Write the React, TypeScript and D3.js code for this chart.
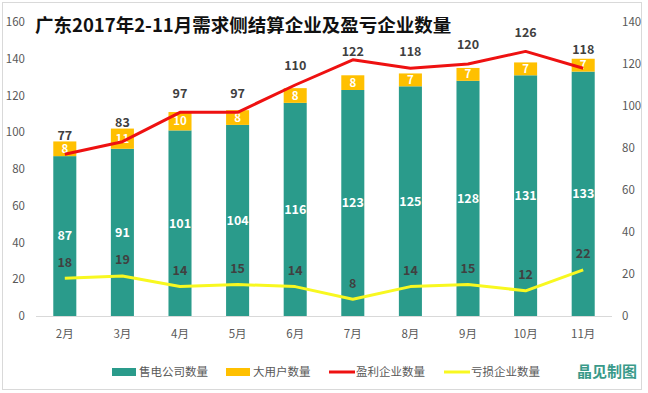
import * as React from 'react';
import * as d3 from 'd3';

const months = ['2月', '3月', '4月', '5月', '6月', '7月', '8月', '9月', '10月', '11月'];
const sellers = [87, 91, 101, 104, 116, 123, 125, 128, 131, 133];
const bigUsers = [8, 11, 10, 8, 8, 8, 7, 7, 7, 7];
const profit = [77, 83, 97, 97, 110, 122, 118, 120, 126, 118];
const loss = [18, 19, 14, 15, 14, 8, 14, 15, 12, 22];
const leftTicks = [0, 20, 40, 60, 80, 100, 120, 140, 160];
const rightTicks = [0, 20, 40, 60, 80, 100, 120, 140];

const W = 648, H = 393;
const FONT = '"Noto Sans CJK SC", "Noto Sans", sans-serif';
const TEAL = '#2a9b8b';
const ORANGE = '#ffc000';
const RED = '#ee1111';
const YELLOW = '#f8f820';

class App extends React.Component {
  // tslint:disable-next-line:no-any
  svgRef: React.RefObject<any>;

  constructor(props: {}) {
    super(props);
    this.svgRef = React.createRef();
  }

  componentDidMount() {
    const svg = d3.select(this.svgRef.current);
    svg.selectAll('*').remove();

    const x0 = 36, x1 = 612, yTop = 22, yBottom = 316;
    const titleEnd = 450;

    const x = d3.scaleBand().domain(months).range([x0, x1]).paddingInner(0.6).paddingOuter(0.3);
    const yL = d3.scaleLinear().domain([0, 160]).range([yBottom, yTop]);
    const yR = d3.scaleLinear().domain([0, 140]).range([yBottom, yTop]);
    const cx = (m: string) => (x(m) || 0) + x.bandwidth() / 2;

    // frame
    svg.append('rect')
      .attr('x', 2.5).attr('y', 2.5).attr('width', 639).attr('height', 387)
      .attr('fill', '#fff').attr('stroke', '#d9d9d9');

    // axis ticks
    svg.append('g').selectAll('text').data(leftTicks).enter().append('text')
      .attr('x', 25).attr('y', d => yL(d)).attr('dy', '0.35em')
      .attr('text-anchor', 'end').attr('font-size', 11.5).attr('fill', '#595959')
      .attr('font-family', FONT).text(d => `${d}`);
    svg.append('g').selectAll('text').data(rightTicks).enter().append('text')
      .attr('x', 622).attr('y', d => yR(d)).attr('dy', '0.35em')
      .attr('text-anchor', 'start').attr('font-size', 11.5).attr('fill', '#595959')
      .attr('font-family', FONT).text(d => `${d}`);

    // bars
    const bars = svg.append('g');
    bars.selectAll('rect.s').data(months).enter().append('rect')
      .attr('x', d => x(d) || 0).attr('width', x.bandwidth())
      .attr('y', (d, i) => yL(sellers[i])).attr('height', (d, i) => yBottom - yL(sellers[i]))
      .attr('fill', TEAL);
    bars.selectAll('rect.u').data(months).enter().append('rect')
      .attr('x', d => x(d) || 0).attr('width', x.bandwidth())
      .attr('y', (d, i) => yL(sellers[i] + bigUsers[i]))
      .attr('height', (d, i) => yL(sellers[i]) - yL(sellers[i] + bigUsers[i]))
      .attr('fill', ORANGE);

    // x axis
    svg.append('line').attr('x1', x0).attr('x2', x1).attr('y1', yBottom + 0.5).attr('y2', yBottom + 0.5)
      .attr('stroke', '#d9d9d9');
    svg.append('g').selectAll('text').data(months).enter().append('text')
      .attr('x', d => cx(d)).attr('y', 334).attr('dy', '0.35em')
      .attr('text-anchor', 'middle').attr('font-size', 11.5).attr('fill', '#595959')
      .attr('font-family', FONT).text(d => d);

    // bar labels
    bars.selectAll('text.s').data(months).enter().append('text')
      .attr('x', d => cx(d)).attr('y', (d, i) => (yL(sellers[i]) + yBottom) / 2).attr('dy', '0.35em')
      .attr('text-anchor', 'middle').attr('font-size', 12.5).attr('font-weight', 'bold')
      .attr('fill', '#fff').attr('font-family', FONT).text((d, i) => `${sellers[i]}`);
    bars.selectAll('text.u').data(months).enter().append('text')
      .attr('x', d => cx(d)).attr('y', (d, i) => (yL(sellers[i]) + yL(sellers[i] + bigUsers[i])) / 2)
      .attr('dy', '0.35em')
      .attr('text-anchor', 'middle').attr('font-size', 11.5).attr('font-weight', 'bold')
      .attr('fill', '#fff').attr('font-family', FONT).text((d, i) => `${bigUsers[i]}`);

    // lines
    const line = d3.line<number>().x((d, i) => cx(months[i])).y(d => yR(d));
    svg.append('path').datum(loss).attr('d', line).attr('fill', 'none')
      .attr('stroke', YELLOW).attr('stroke-width', 3).attr('stroke-linejoin', 'round');
    svg.append('path').datum(profit).attr('d', line).attr('fill', 'none')
      .attr('stroke', RED).attr('stroke-width', 3).attr('stroke-linejoin', 'round');

    // profit labels sit above the line; those under the title are pulled down
    const profitY = (d: number, i: number) => {
      const y = yR(d) - 19;
      return cx(months[i]) < titleEnd ? Math.max(y, 52) : y;
    };
    svg.append('g').selectAll('text').data(profit).enter().append('text')
      .attr('x', (d, i) => cx(months[i])).attr('y', profitY).attr('dy', '0.35em')
      .attr('text-anchor', 'middle').attr('font-size', 12.5).attr('font-weight', 'bold')
      .attr('fill', '#404040').attr('font-family', FONT).text(d => `${d}`);
    svg.append('g').selectAll('text').data(loss).enter().append('text')
      .attr('x', (d, i) => cx(months[i])).attr('y', d => yR(d) - 16).attr('dy', '0.35em')
      .attr('text-anchor', 'middle').attr('font-size', 12.5).attr('font-weight', 'bold')
      .attr('fill', '#404040').attr('font-family', FONT).text(d => `${d}`);

    // title
    svg.append('text').attr('x', 35).attr('y', 26).attr('dy', '0.35em')
      .attr('font-size', 18.5).attr('font-weight', 'bold').attr('fill', '#111')
      .attr('font-family', FONT).text('广东2017年2-11月需求侧结算企业及盈亏企业数量');

    // legend
    const legend = [
      { name: '售电公司数量', color: TEAL, kind: 'rect', x: 112 },
      { name: '大用户数量', color: ORANGE, kind: 'rect', x: 226 },
      { name: '盈利企业数量', color: RED, kind: 'line', x: 329 },
      { name: '亏损企业数量', color: YELLOW, kind: 'line', x: 444 },
    ];
    const ly = 372;
    const lg = svg.append('g');
    legend.forEach(l => {
      if (l.kind === 'rect') {
        lg.append('rect').attr('x', l.x).attr('y', ly - 4).attr('width', 24).attr('height', 8).attr('fill', l.color);
      } else {
        lg.append('line').attr('x1', l.x).attr('x2', l.x + 26).attr('y1', ly).attr('y2', ly)
          .attr('stroke', l.color).attr('stroke-width', 3);
      }
      lg.append('text').attr('x', l.x + 27).attr('y', ly).attr('dy', '0.35em')
        .attr('font-size', 11.5).attr('fill', '#595959').attr('font-family', FONT).text(l.name);
    });

    svg.append('text').attr('x', 637).attr('y', 372).attr('dy', '0.35em').attr('text-anchor', 'end')
      .attr('font-size', 15).attr('font-weight', 'bold').attr('fill', '#3a9a8a')
      .attr('font-family', FONT).text('晶见制图');
  }

  render() {
    return (
      <div style={{ position: 'absolute', left: 0, top: 0 }}>
        <svg ref={this.svgRef} width={W} height={H} style={{ display: 'block' }} />
      </div>
    );
  }
}

export default App;
